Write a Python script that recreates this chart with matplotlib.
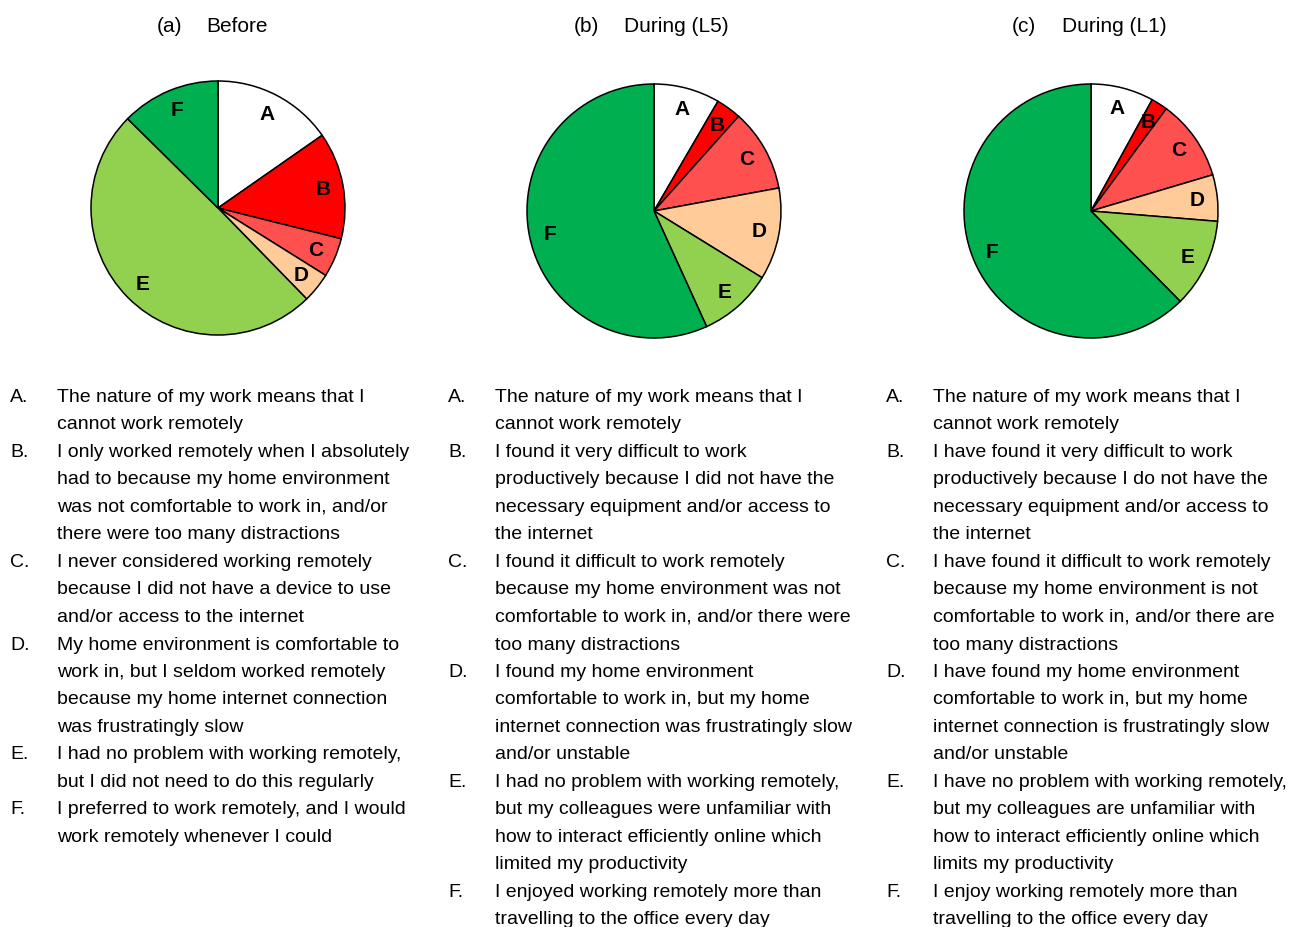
import matplotlib
matplotlib.use('Agg')
from matplotlib import pyplot as plt

#%% Data (shares in %, slices A-F)
labels = ['A', 'B', 'C', 'D', 'E', 'F']
colors = ['#FFFFFF', '#FF0000', '#FF5050', '#FFCC99', '#92D050', '#00B050']

before = [15.3, 13.6, 5.0, 3.8, 49.7, 12.6]
during_l5 = [8.4, 3.2, 10.5, 11.7, 9.4, 56.8]
during_l1 = [8.0, 2.1, 10.3, 5.9, 11.3, 62.4]

titles = ['(a)', '(b)', '(c)']
subtitles = ['Before', 'During (L5)', 'During (L1)']

answers_before = [
    ['The nature of my work means that I', 'cannot work remotely'],
    ['I only worked remotely when I absolutely', 'had to because my home environment',
     'was not comfortable to work in, and/or', 'there were too many distractions'],
    ['I never considered working remotely', 'because I did not have a device to use',
     'and/or access to the internet'],
    ['My home environment is comfortable to', 'work in, but I seldom worked remotely',
     'because my home internet connection', 'was frustratingly slow'],
    ['I had no problem with working remotely,', 'but I did not need to do this regularly'],
    ['I preferred to work remotely, and I would', 'work remotely whenever I could'],
]
answers_l5 = [
    ['The nature of my work means that I', 'cannot work remotely'],
    ['I found it very difficult to work', 'productively because I did not have the',
     'necessary equipment and/or access to', 'the internet'],
    ['I found it difficult to work remotely', 'because my home environment was not',
     'comfortable to work in, and/or there were', 'too many distractions'],
    ['I found my home environment', 'comfortable to work in, but my home',
     'internet connection was frustratingly slow', 'and/or unstable'],
    ['I had no problem with working remotely,', 'but my colleagues were unfamiliar with',
     'how to interact efficiently online which', 'limited my productivity'],
    ['I enjoyed working remotely more than', 'travelling to the office every day'],
]
answers_l1 = [
    ['The nature of my work means that I', 'cannot work remotely'],
    ['I have found it very difficult to work', 'productively because I do not have the',
     'necessary equipment and/or access to', 'the internet'],
    ['I have found it difficult to work remotely', 'because my home environment is not',
     'comfortable to work in, and/or there are', 'too many distractions'],
    ['I have found my home environment', 'comfortable to work in, but my home',
     'internet connection is frustratingly slow', 'and/or unstable'],
    ['I have no problem with working remotely,', 'but my colleagues are unfamiliar with',
     'how to interact efficiently online which', 'limits my productivity'],
    ['I enjoy working remotely more than', 'travelling to the office every day'],
]

#%% Figure
W, H = 1300, 928
fig = plt.figure(figsize=(W / 100, H / 100), dpi=100)

font = ['Liberation Sans', 'DejaVu Sans']

def px(x, y):
    return x / W, 1 - y / H

R = 127
pie_centres = [(218, 209), (654, 212), (1091, 212)]
title_x = [(170, 237), (586, 676), (1024, 1114)]
col_x = [0, 438, 876]

for i, (vals, answers) in enumerate(zip([before, during_l5, during_l1],
                                        [answers_before, answers_l5, answers_l1])):
    cx, cy = pie_centres[i]
    ax = fig.add_axes([(cx - R) / W, (H - cy - R) / H, 2 * R / W, 2 * R / H])
    ax.pie(vals, labels=labels, colors=colors, startangle=90, counterclock=False,
           labeldistance=0.84, radius=1,
           wedgeprops={'edgecolor': 'black', 'linewidth': 1.1, 'clip_on': False},
           textprops={'fontsize': 15, 'fontweight': 'bold', 'family': font,
                      'ha': 'center', 'va': 'center'})
    ax.set_xlim(-1.0, 1.0)
    ax.set_ylim(-1.0, 1.0)
    ax.axis('off')

    # panel title
    fig.text(*px(title_x[i][0], 26), titles[i], fontsize=15, family=font,
             ha='center', va='center')
    fig.text(*px(title_x[i][1], 26), subtitles[i], fontsize=15, family=font,
             ha='center', va='center')

    # answer list below the pie
    line = 0
    for lbl, lines in zip(labels, answers):
        fig.text(*px(col_x[i] + 10, 397.5 + line * 27.5), lbl + '.', fontsize=14,
                 family=font, ha='left', va='center')
        for txt in lines:
            fig.text(*px(col_x[i] + 57, 397.5 + line * 27.5), txt, fontsize=14,
                     family=font, ha='left', va='center')
            line += 1

fig.savefig('out.png', dpi=100)
